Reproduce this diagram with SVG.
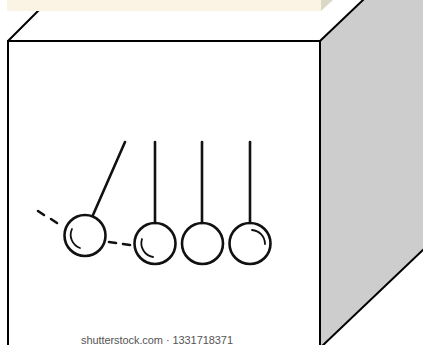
<svg xmlns="http://www.w3.org/2000/svg" width="423" height="345" viewBox="0 0 423 345">
  <style>
    .edge { stroke: #000; stroke-width: 2; stroke-linejoin: miter; }
    .ink { fill: none; stroke: #111; stroke-width: 2.6; stroke-linecap: round; }
    .thin { fill: none; stroke: #111; stroke-width: 1.8; stroke-linecap: round; }
    .dash { fill: none; stroke: #111; stroke-width: 2.6; stroke-linecap: round; }
    .mark { font-family: "Liberation Sans", Arial, sans-serif; font-size: 11px; fill: #555; }
  </style>
  <rect width="423" height="345" fill="#fff"/>

  <!-- cube: right face, top edges, front face -->
  <g id="cube">
    <polygon class="edge" fill="#cdcdcd" points="320,41 470,-102 470,205 320,348"/>
    <line class="edge" x1="8" y1="41" x2="60" y2="-11"/>
    <rect class="edge" x="8" y="41" width="312" height="307" fill="#fff"/>
  </g>

  <!-- lid of the box above -->
  <g id="lid">
    <rect x="7" y="-2" width="315" height="13" fill="#fbf3e3"/>
    <polygon points="321,0 333,0 321,11" fill="#dcd8c8"/>
  </g>

  <!-- Newton's cradle drawing on the front face -->
  <g id="cradle">
    <!-- strings -->
    <line class="ink" x1="125" y1="142" x2="93" y2="215"/>
    <line class="ink" x1="155" y1="142" x2="155" y2="223"/>
    <line class="ink" x1="202" y1="142" x2="202" y2="223"/>
    <line class="ink" x1="250" y1="142" x2="250" y2="223"/>
    <!-- balls -->
    <circle class="ink" cx="85" cy="235.5" r="20.5"/>
    <circle class="ink" cx="155" cy="243.5" r="20.5"/>
    <circle class="ink" cx="202.5" cy="243.5" r="20.5"/>
    <circle class="ink" cx="250" cy="243.5" r="20.5"/>
    <!-- highlights -->
    <path class="thin" d="M72,229 A14,14 0 0 0 80,248"/>
    <path class="thin" d="M142,239 A14,14 0 0 0 153,257"/>
    <path class="thin" d="M252,230 A14,14 0 0 1 265,244"/>
    <!-- motion dashes -->
    <line class="dash" x1="38" y1="211" x2="44" y2="215"/>
    <line class="dash" x1="51" y1="219" x2="57" y2="223"/>
    <line class="dash" x1="109" y1="242" x2="116" y2="243"/>
    <line class="dash" x1="123" y1="244" x2="130" y2="245"/>
  </g>

  <g id="watermark">
    <text class="mark" x="81" y="344" textLength="152">shutterstock.com · 1331718371</text>
  </g>
</svg>
